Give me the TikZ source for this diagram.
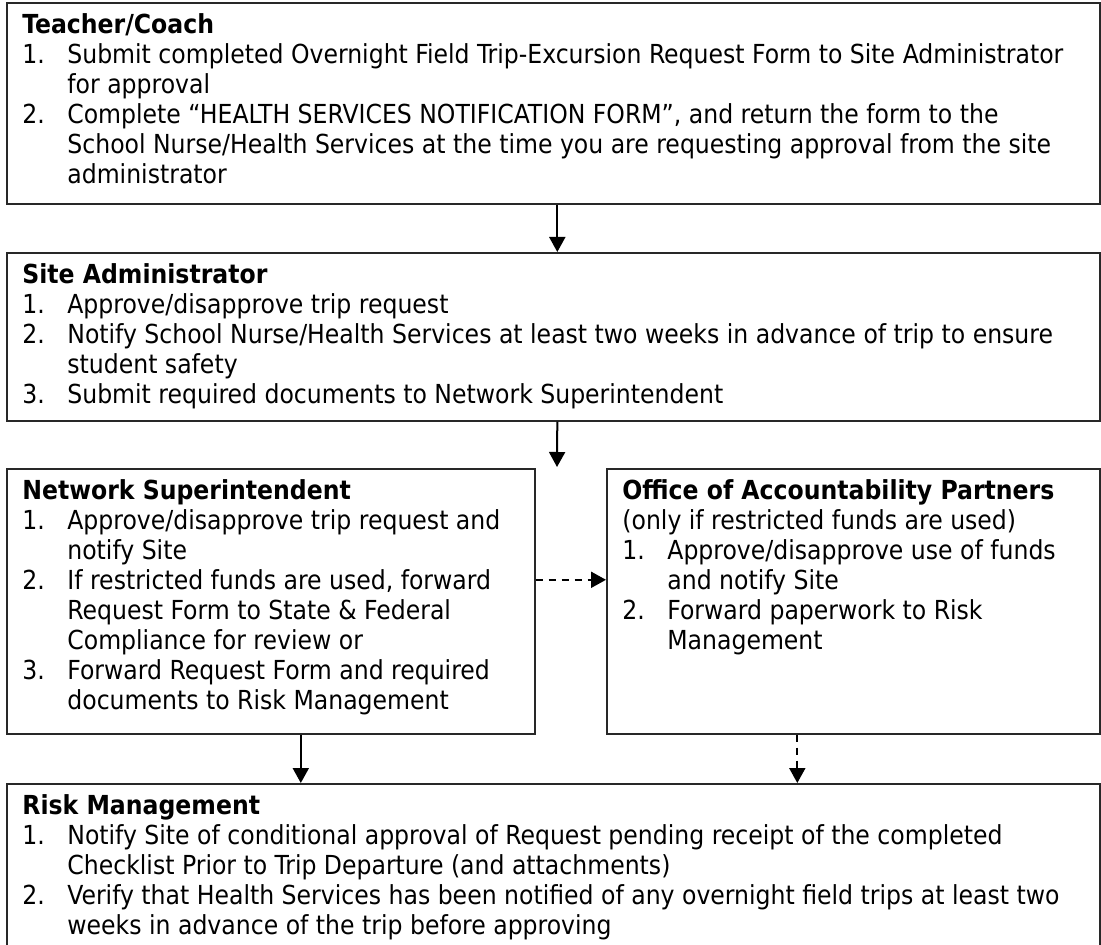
\documentclass[tikz,border=0pt]{standalone}
\usepackage{fontspec}
\setmainfont{DejaVuSansCondensed}[Extension=.ttf,BoldFont=DejaVuSansCondensed-Bold]
\usepackage{tikz}
\usetikzlibrary{arrows.meta}
\usepackage{xcolor}
\definecolor{framegray}{RGB}{40,40,40}

% numbered line and its follow-up line
\newcommand{\itm}[2]{\makebox[22.5pt][l]{#1}#2}
\newcommand{\cnt}[1]{\hspace*{22.5pt}#1}

\tikzset{
	stagebox/.style={rectangle, draw=framegray, line width=0.8pt, anchor=north west, inner sep=0pt},
	stagetext/.style={anchor=north west, inner sep=0pt, align=left,
		font=\fontsize{13.1}{15}\selectfont},
	flow/.style={-{Triangle[length=7.5pt,width=8pt]}, line width=1pt},
	optflow/.style={flow, dash pattern=on 3.5pt off 3pt}
}

\begin{document}
\begin{tikzpicture}[x=0.5pt,y=-0.5pt]
	\useasboundingbox (0,0) rectangle (1101,945);

	\node[stagebox, minimum width=546.5pt, minimum height=100.5pt] (teacher) at (6,2) {};
	\node[stagebox, minimum width=546.5pt, minimum height=84pt] (site) at (6,252) {};
	\node[stagebox, minimum width=264pt, minimum height=132.5pt] (network) at (6,468) {};
	\node[stagebox, minimum width=246.5pt, minimum height=132.5pt] (office) at (606,468) {};
	\node[stagebox, minimum width=546.5pt, minimum height=110pt] (risk) at (6,783) {};

	\node[stagetext] (teachertxt) at ([shift={(16,11)}]teacher.north west) {
		\textbf{Teacher/Coach}\\
		\itm{1.}{Submit completed Overnight Field Trip-Excursion Request Form to Site Administrator}\\
		\cnt{for approval}\\
		\itm{2.}{Complete “HEALTH SERVICES NOTIFICATION FORM”, and return the form to the}\\
		\cnt{School Nurse/Health Services at the time you are requesting approval from the site}\\
		\cnt{administrator}
	};
	\node[stagetext] (sitetxt) at ([shift={(16,11)}]site.north west) {
		\textbf{Site Administrator}\\
		\itm{1.}{Approve/disapprove trip request}\\
		\itm{2.}{Notify School Nurse/Health Services at least two weeks in advance of trip to ensure}\\
		\cnt{student safety}\\
		\itm{3.}{Submit required documents to Network Superintendent}
	};
	\node[stagetext] (networktxt) at ([shift={(16,11)}]network.north west) {
		\textbf{Network Superintendent}\\
		\itm{1.}{Approve/disapprove trip request and}\\
		\cnt{notify Site}\\
		\itm{2.}{If restricted funds are used, forward}\\
		\cnt{Request Form to State \& Federal}\\
		\cnt{Compliance for review or}\\
		\itm{3.}{Forward Request Form and required}\\
		\cnt{documents to Risk Management}
	};
	\node[stagetext] (officetxt) at ([shift={(16,11)}]office.north west) {
		\textbf{Office of Accountability Partners}\\
		(only if restricted funds are used)\\
		\itm{1.}{Approve/disapprove use of funds}\\
		\cnt{and notify Site}\\
		\itm{2.}{Forward paperwork to Risk}\\
		\cnt{Management}
	};
	\node[stagetext] (risktxt) at ([shift={(16,11)}]risk.north west) {
		\textbf{Risk Management}\\
		\itm{1.}{Notify Site of conditional approval of Request pending receipt of the completed}\\
		\cnt{Checklist Prior to Trip Departure (and attachments)}\\
		\itm{2.}{Verify that Health Services has been notified of any overnight field trips at least two}\\
		\cnt{weeks in advance of the trip before approving}
	};

	\coordinate (split) at (557,467);

	\draw[flow] ([xshift=2pt]teacher.south) -- ([xshift=2pt]site.north);
	\draw[flow] ([xshift=2pt]site.south) -- (split);
	\draw[optflow] ([yshift=10.75pt]network.east) -- ([yshift=10.75pt]network.east -| office.west);
	\draw[flow] ([xshift=15pt]network.south) -- ([xshift=15pt]network.south |- risk.north);
	\draw[optflow] ([xshift=-28pt]office.south) -- ([xshift=-28pt]office.south |- risk.north);
\end{tikzpicture}
\end{document}
